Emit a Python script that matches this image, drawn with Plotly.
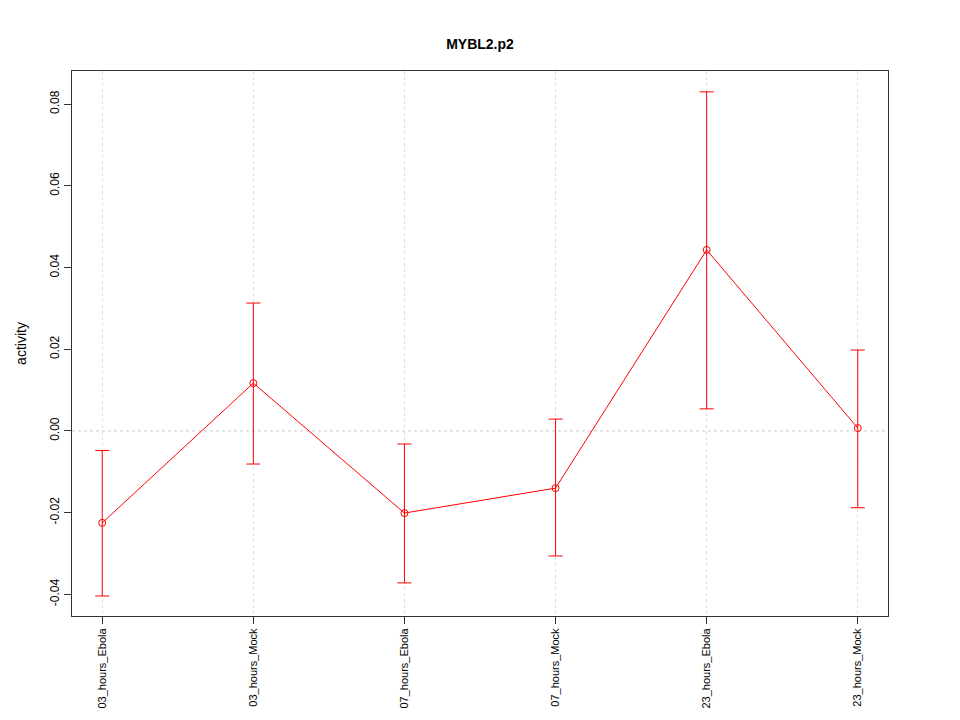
import plotly.graph_objects as go

categories = ["03_hours_Ebola", "03_hours_Mock", "07_hours_Ebola",
              "07_hours_Mock", "23_hours_Ebola", "23_hours_Mock"]
activity = [-0.0225, 0.0117, -0.0201, -0.0140, 0.0443, 0.0007]
upper = [-0.0048, 0.0313, -0.0032, 0.0029, 0.0830, 0.0198]
lower = [-0.0404, -0.0081, -0.0372, -0.0306, 0.0054, -0.0188]

err_plus = [u - a for u, a in zip(upper, activity)]
err_minus = [a - l for a, l in zip(activity, lower)]
xidx = list(range(len(categories)))

W, H = 944, 704  # page body has an 8px margin

fig = go.Figure()
fig.add_trace(go.Scatter(
    x=xidx, y=activity, mode="lines+markers",
    line=dict(color="#ff0000", width=1),
    marker=dict(symbol="circle-open", size=7, color="#ff0000", line=dict(width=1)),
    error_y=dict(type="data", symmetric=False, array=err_plus, arrayminus=err_minus,
                 color="#ff0000", thickness=1, width=7),
    showlegend=False,
))

fig.add_shape(type="line", xref="paper", x0=0, x1=1, yref="y", y0=0, y1=0,
              line=dict(color="#cccccc", width=1, dash="dot"), layer="below")

fig.update_layout(
    width=W, height=H,
    margin=dict(l=64, r=64, t=63, b=96, autoexpand=False),
    paper_bgcolor="white", plot_bgcolor="white",
    font=dict(family="Liberation Sans, Arial, sans-serif", size=12, color="black"),
    title=dict(text="<b>MYBL2.p2</b>", x=0.5, xanchor="center", y=1 - 36 / H,
               yanchor="middle", font=dict(size=14)),
    xaxis=dict(
        range=[-0.2, 5.2], tickmode="array", tickvals=xidx, ticktext=categories,
        tickangle=-90, ticks="outside", ticklen=7, tickcolor="#333333",
        tickfont=dict(size=11),
        showline=True, linecolor="#333333", mirror=True, linewidth=1,
        showgrid=True, gridcolor="#dddddd", griddash="dot", gridwidth=1,
        zeroline=False, automargin=False,
    ),
    yaxis=dict(
        range=[-0.0453, 0.0881], tickmode="array",
        tickvals=[-0.04, -0.02, 0.0, 0.02, 0.04, 0.06, 0.08],
        ticktext=["-0.04", "-0.02", "0.00", "0.02", "0.04", "0.06", "0.08"],
        tickangle=-90, ticks="outside", ticklen=7, tickcolor="#333333",
        showline=True, linecolor="#333333", mirror=True, linewidth=1,
        showgrid=False, zeroline=False, automargin=False,
        title=dict(text="activity", standoff=18),
    ),
)

fig.write_html("out.html")
